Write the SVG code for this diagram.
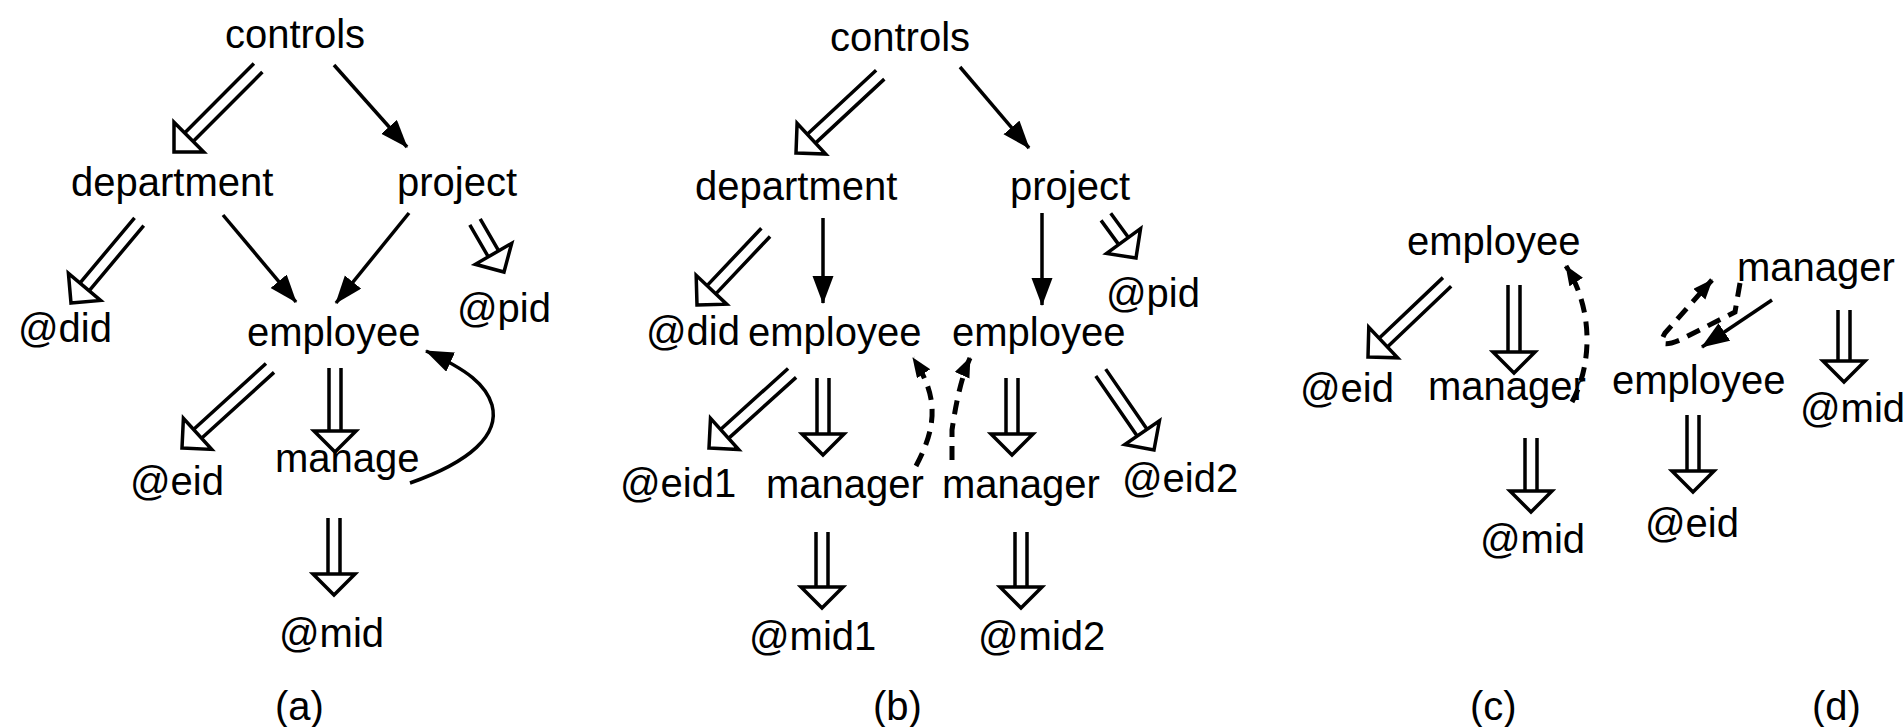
<svg xmlns="http://www.w3.org/2000/svg" xmlns:xlink="http://www.w3.org/1999/xlink" width="1903" height="727" viewBox="0 0 1903 727">
<style>
text{font-family:"Liberation Sans",Arial,Helvetica,sans-serif;font-size:40px;fill:#000}
.sa{fill:none;stroke:#000;stroke-width:3.5;marker-end:url(#ah)}
.ds{fill:none;stroke:#000;stroke-width:5;stroke-dasharray:14 9;marker-end:url(#ahs)}
.da path{fill:none;stroke:#000;stroke-width:3.5}
</style>
<defs>
<marker id="ah" markerUnits="userSpaceOnUse" markerWidth="30" markerHeight="24" refX="27" refY="10.5" orient="auto"><path d="M0,0 L28,10.5 L0,21 Z" fill="#000"/></marker>
<marker id="ahs" markerUnits="userSpaceOnUse" markerWidth="22" markerHeight="18" refX="19" refY="8" orient="auto"><path d="M0,0 L20,8 L0,16 Z" fill="#000"/></marker>
<path id="dh" d="M0,0 L-21,-21 L-21,21 Z" fill="#fff" stroke="#000" stroke-width="3.5"/>
</defs>
<rect width="1903" height="727" fill="#fff"/>

<g id="connectors">
<g class="da" transform="translate(174,152) rotate(135)"><path d="M-119,-6H-21M-119,6H-21"/><use xlink:href="#dh"/></g>
<g class="da" transform="translate(71,303) rotate(130)"><path d="M-106,-6H-21M-106,6H-21"/><use xlink:href="#dh"/></g>
<g class="da" transform="translate(504,272) rotate(60)"><path d="M-58,-6H-21M-58,6H-21"/><use xlink:href="#dh"/></g>
<g class="da" transform="translate(182,448) rotate(137.7)"><path d="M-119,-6H-21M-119,6H-21"/><use xlink:href="#dh"/></g>
<g class="da" transform="translate(335,452) rotate(90)"><path d="M-84,-6H-21M-84,6H-21"/><use xlink:href="#dh"/></g>
<g class="da" transform="translate(334,595) rotate(90)"><path d="M-77,-6H-21M-77,6H-21"/><use xlink:href="#dh"/></g>
<path class="sa" d="M334,65 L407,147"/>
<path class="sa" d="M223,215 L296,302"/>
<path class="sa" d="M409,213 L336,303"/>
<path class="sa" d="M410,483 C470,462 500,435 492,405 C486,385 468,370 426,351"/>

<g class="da" transform="translate(796,153) rotate(137.1)"><path d="M-115,-6H-21M-115,6H-21"/><use xlink:href="#dh"/></g>
<g class="da" transform="translate(697,305) rotate(133.4)"><path d="M-100,-6H-21M-100,6H-21"/><use xlink:href="#dh"/></g>
<g class="da" transform="translate(1136,258) rotate(53.8)"><path d="M-51,-6H-21M-51,6H-21"/><use xlink:href="#dh"/></g>
<g class="da" transform="translate(709,448) rotate(137.9)"><path d="M-112,-6H-21M-112,6H-21"/><use xlink:href="#dh"/></g>
<g class="da" transform="translate(823,455) rotate(90)"><path d="M-77,-6H-21M-77,6H-21"/><use xlink:href="#dh"/></g>
<g class="da" transform="translate(1012,455) rotate(90)"><path d="M-77,-6H-21M-77,6H-21"/><use xlink:href="#dh"/></g>
<g class="da" transform="translate(1154,450) rotate(55.5)"><path d="M-94,-6H-21M-94,6H-21"/><use xlink:href="#dh"/></g>
<g class="da" transform="translate(822,608) rotate(90)"><path d="M-76,-6H-21M-76,6H-21"/><use xlink:href="#dh"/></g>
<g class="da" transform="translate(1021,608) rotate(90)"><path d="M-76,-6H-21M-76,6H-21"/><use xlink:href="#dh"/></g>
<path class="sa" d="M960,67 L1029,148"/>
<path class="sa" d="M823,218 L823,303"/>
<path class="sa" d="M1042,213 L1042,305"/>
<path class="ds" d="M916,466 C938,425 938,395 913,358"/>
<path class="ds" d="M952,460 L952,430 C955,410 960,380 970,358"/>

<g class="da" transform="translate(1368,357) rotate(136.5)"><path d="M-109,-6H-21M-109,6H-21"/><use xlink:href="#dh"/></g>
<g class="da" transform="translate(1514,373) rotate(90)"><path d="M-88,-6H-21M-88,6H-21"/><use xlink:href="#dh"/></g>
<g class="da" transform="translate(1531,512) rotate(90)"><path d="M-74,-6H-21M-74,6H-21"/><use xlink:href="#dh"/></g>
<path class="ds" d="M1572,402 C1592,365 1594,310 1566,266"/>

<g class="da" transform="translate(1844,382) rotate(90)"><path d="M-72,-6H-21M-72,6H-21"/><use xlink:href="#dh"/></g>
<g class="da" transform="translate(1693,492) rotate(90)"><path d="M-77,-6H-21M-77,6H-21"/><use xlink:href="#dh"/></g>
<path class="sa" d="M1772,300 L1702,347"/>
<path class="ds" d="M1740,283 L1735,312 L1680,340 Q1655,350 1665,333 L1712,280"/>
</g>

<g id="a-controls"><text x="225" y="48">controls</text></g>
<g id="a-department"><text x="71" y="196">department</text></g>
<g id="a-project"><text x="397" y="196">project</text></g>
<g id="a-did"><text x="18" y="342">@did</text></g>
<g id="a-employee"><text x="247" y="346">employee</text></g>
<g id="a-pid"><text x="457" y="322">@pid</text></g>
<g id="a-eid"><text x="130" y="495">@eid</text></g>
<g id="a-manage"><text x="275" y="472">manage</text></g>
<g id="a-mid"><text x="279" y="647">@mid</text></g>
<g id="a-label"><text x="275" y="720">(a)</text></g>

<g id="b-controls"><text x="830" y="51">controls</text></g>
<g id="b-department"><text x="695" y="200">department</text></g>
<g id="b-project"><text x="1010" y="200">project</text></g>
<g id="b-did"><text x="646" y="345">@did</text></g>
<g id="b-employee1"><text x="748" y="346">employee</text></g>
<g id="b-employee2"><text x="952" y="346">employee</text></g>
<g id="b-pid"><text x="1106" y="307">@pid</text></g>
<g id="b-eid1"><text x="620" y="497">@eid1</text></g>
<g id="b-manager1"><text x="766" y="498">manager</text></g>
<g id="b-manager2"><text x="942" y="498">manager</text></g>
<g id="b-eid2"><text x="1122" y="492">@eid2</text></g>
<g id="b-mid1"><text x="749" y="650">@mid1</text></g>
<g id="b-mid2"><text x="978" y="650">@mid2</text></g>
<g id="b-label"><text x="873" y="720">(b)</text></g>

<g id="c-employee"><text x="1407" y="255">employee</text></g>
<g id="c-eid"><text x="1300" y="402">@eid</text></g>
<g id="c-manager"><text x="1428" y="400">manager</text></g>
<g id="c-mid"><text x="1480" y="553">@mid</text></g>
<g id="c-label"><text x="1470" y="720">(c)</text></g>

<g id="d-manager"><text x="1737" y="281">manager</text></g>
<g id="d-employee"><text x="1612" y="394">employee</text></g>
<g id="d-mid"><text x="1800" y="422">@mid</text></g>
<g id="d-eid"><text x="1645" y="537">@eid</text></g>
<g id="d-label"><text x="1812" y="720">(d)</text></g>
</svg>
